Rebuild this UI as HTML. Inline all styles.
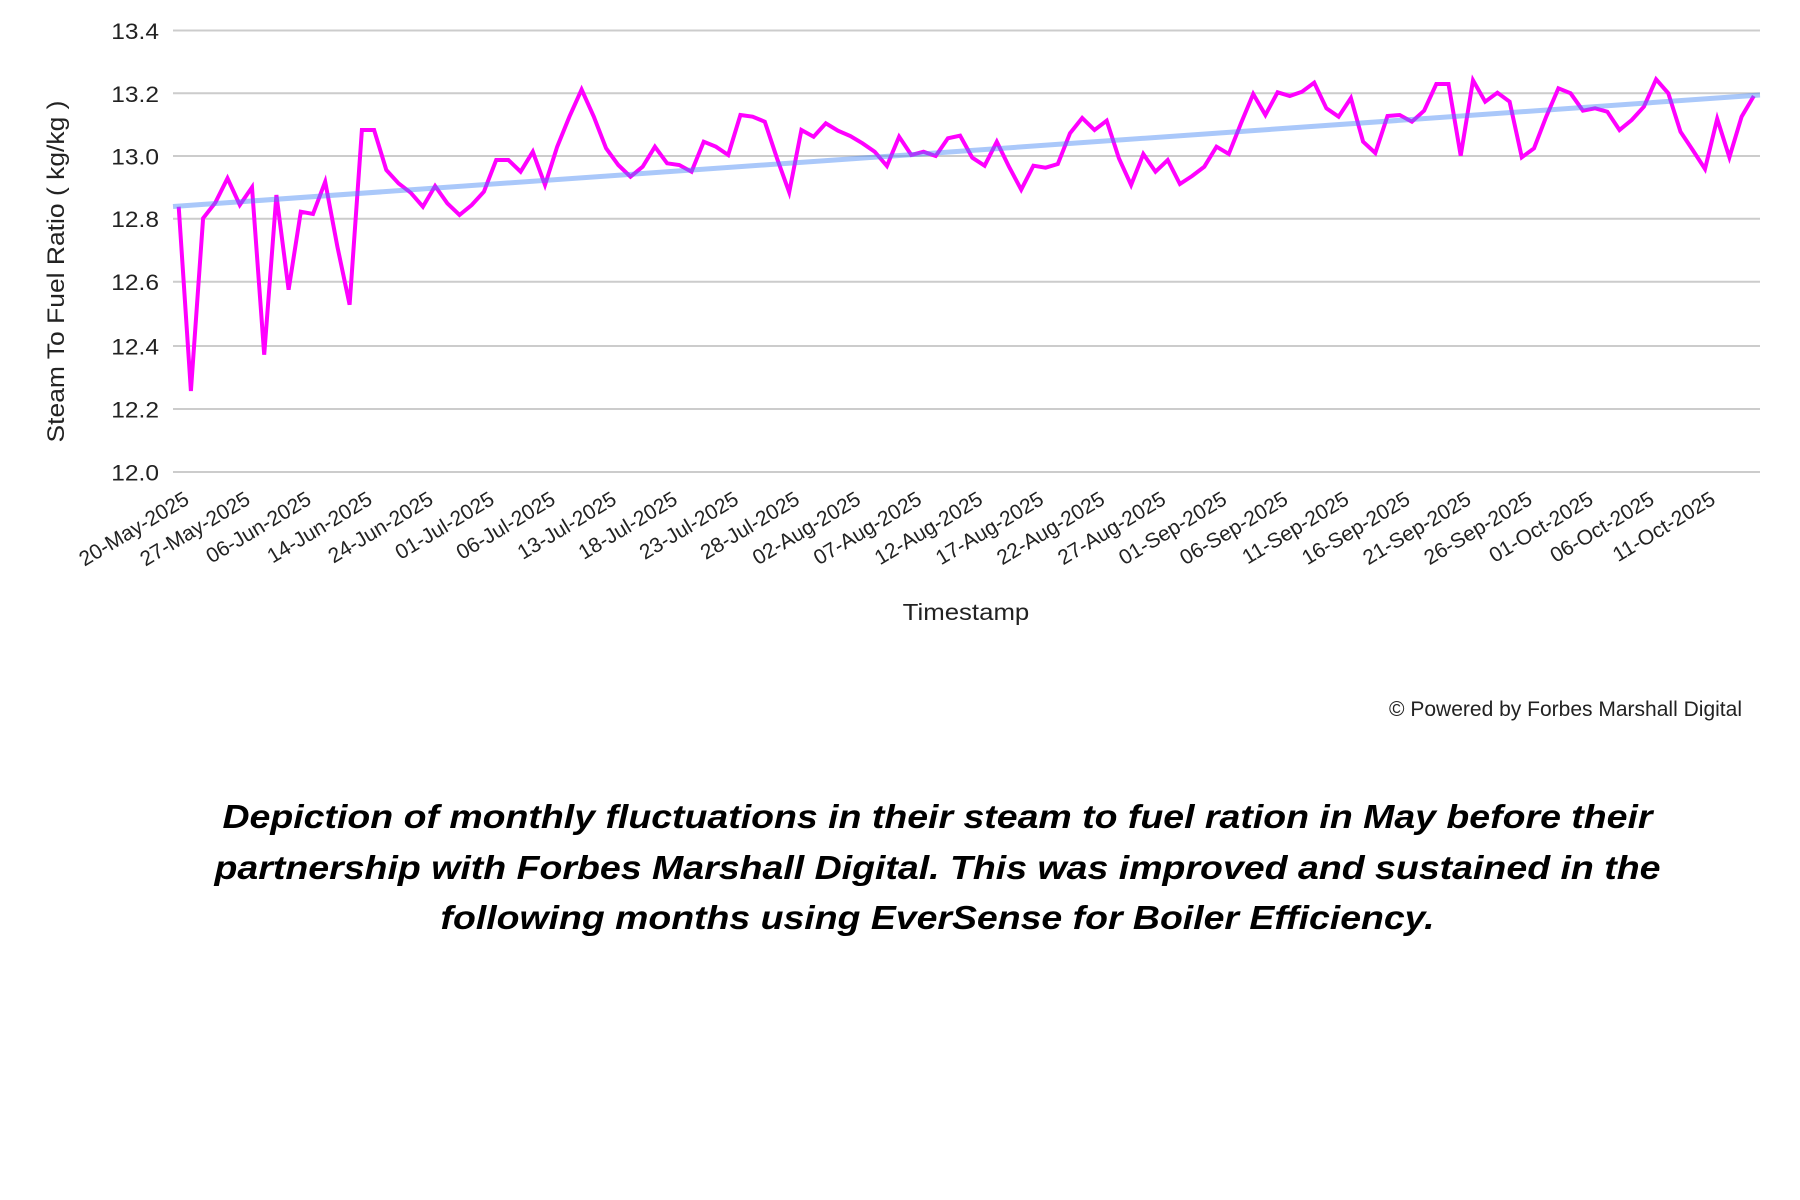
<!DOCTYPE html>
<html>
<head>
<meta charset="utf-8">
<style>
  html, body { margin: 0; padding: 0; background: #ffffff; }
  svg { display: block; }
  .ax { font-family: "Liberation Sans", Arial, sans-serif; fill: #222222; }
  .cap { font-family: "Liberation Sans", Arial, sans-serif; font-weight: bold; font-style: italic; fill: #000000; }
</style>
</head>
<body>
<svg width="1800" height="1200" viewBox="0 0 1800 1200" xmlns="http://www.w3.org/2000/svg">
  <rect x="0" y="0" width="1800" height="1200" fill="#ffffff"/>

  <!-- gridlines -->
  <g stroke="#cccccc" stroke-width="2">
    <line x1="173" y1="30.5" x2="1760" y2="30.5"/>
    <line x1="173" y1="93.3" x2="1760" y2="93.3"/>
    <line x1="173" y1="156" x2="1760" y2="156"/>
    <line x1="173" y1="218.7" x2="1760" y2="218.7"/>
    <line x1="173" y1="281.7" x2="1760" y2="281.7"/>
    <line x1="173" y1="346" x2="1760" y2="346"/>
    <line x1="173" y1="409" x2="1760" y2="409"/>
    <line x1="173" y1="472" x2="1760" y2="472"/>
  </g>

  <!-- y tick labels -->
  <g class="ax" font-size="22.3" text-anchor="end">
    <text x="159" y="39" textLength="47.7" lengthAdjust="spacingAndGlyphs">13.4</text>
    <text x="159" y="101.8" textLength="47.7" lengthAdjust="spacingAndGlyphs">13.2</text>
    <text x="159" y="164.5" textLength="47.7" lengthAdjust="spacingAndGlyphs">13.0</text>
    <text x="159" y="227.2" textLength="47.7" lengthAdjust="spacingAndGlyphs">12.8</text>
    <text x="159" y="290.2" textLength="47.7" lengthAdjust="spacingAndGlyphs">12.6</text>
    <text x="159" y="354.5" textLength="47.7" lengthAdjust="spacingAndGlyphs">12.4</text>
    <text x="159" y="417.5" textLength="47.7" lengthAdjust="spacingAndGlyphs">12.2</text>
    <text x="159" y="480.5" textLength="47.7" lengthAdjust="spacingAndGlyphs">12.0</text>
  </g>

  <!-- y axis title -->
  <text class="ax" font-size="24" text-anchor="middle" transform="translate(64,271.5) rotate(-90)" textLength="342" lengthAdjust="spacingAndGlyphs">Steam To Fuel Ratio ( kg/kg )</text>

  <!-- series -->
  <polyline fill="none" stroke="#ff00ff" stroke-width="4" stroke-linejoin="miter" stroke-miterlimit="4" points="
178.7,206.7 190.9,391 203.1,218.3 215.3,202.7 227.5,178.3 239.8,205 252.0,187.3 264.2,354.7 276.4,195 288.6,289.7
300.8,211.7 313.0,214 325.2,181.7 337.4,246.7 349.6,304.7 361.9,130 374.1,130 386.3,170 398.5,183.3 410.7,192.7
422.9,206.7 435.1,186 447.3,203.3 459.5,215 471.7,205 483.9,191.7 496.2,160 508.4,160 520.6,171.7 532.8,151.7
545.0,185 557.2,146.7 569.4,116.7 581.6,89.5 593.8,116.7 606.1,148.3 618.3,165 630.5,176.7 642.7,166.7 654.9,146.7
667.1,163.3 679.3,165 691.5,171.7 703.7,141.7 715.9,146.7 728.2,155 740.4,115 752.6,116.7 764.8,121.7 777.0,158.3
789.2,192.3 801.4,130 813.6,136.7 825.8,123.3 838.0,130.7 850.3,136 862.5,143.3 874.7,151.7 886.9,166 899.1,136.7
911.3,155 923.5,151.7 935.7,156 947.9,138.3 960.1,135.7 972.3,157.7 984.6,165.7 996.8,141.7 1009.0,166.7 1021.2,189.7
1033.4,165.7 1045.6,167.7 1057.8,164 1070.0,133.3 1082.2,118 1094.5,130 1106.7,120.7 1118.9,158.3 1131.1,185 1143.3,154
1155.5,171.7 1167.7,160 1179.9,184 1192.1,176 1204.3,166.7 1216.5,146.7 1228.8,154 1241.0,123.3 1253.2,94 1265.4,115
1277.6,92.3 1289.8,96 1302.0,91.7 1314.2,82.7 1326.4,108.3 1338.6,116.7 1350.9,98 1363.1,141.7 1375.3,153 1387.5,116
1399.7,115 1411.9,121.7 1424.1,110.7 1436.3,84 1448.5,84 1460.7,155.7 1473.0,80.3 1485.2,101.7 1497.4,92.7 1509.6,101.7
1521.8,157.3 1534.0,148.3 1546.2,116.7 1558.4,88.3 1570.6,93.3 1582.9,110.7 1595.1,108.3 1607.3,111.7 1619.5,130 1631.7,120
1643.9,106.7 1656.1,79.3 1668.3,93.3 1680.5,131.7 1692.7,150 1705.0,169 1717.2,118.8 1729.4,157.3 1741.6,116.7 1753.8,96"/>

  <!-- trendline -->
  <line x1="173" y1="206.5" x2="1760" y2="95" stroke="#4285f4" stroke-opacity="0.45" stroke-width="5"/>

  <!-- x tick labels -->
  <g class="ax" font-size="21" text-anchor="end">
    <text transform="translate(190.5,503) rotate(-31)">20-May-2025</text>
    <text transform="translate(251.6,503) rotate(-31)">27-May-2025</text>
    <text transform="translate(312.6,503) rotate(-31)">06-Jun-2025</text>
    <text transform="translate(373.7,503) rotate(-31)">14-Jun-2025</text>
    <text transform="translate(434.7,503) rotate(-31)">24-Jun-2025</text>
    <text transform="translate(495.7,503) rotate(-31)">01-Jul-2025</text>
    <text transform="translate(556.8,503) rotate(-31)">06-Jul-2025</text>
    <text transform="translate(617.9,503) rotate(-31)">13-Jul-2025</text>
    <text transform="translate(678.9,503) rotate(-31)">18-Jul-2025</text>
    <text transform="translate(740.0,503) rotate(-31)">23-Jul-2025</text>
    <text transform="translate(801.0,503) rotate(-31)">28-Jul-2025</text>
    <text transform="translate(862.1,503) rotate(-31)">02-Aug-2025</text>
    <text transform="translate(923.1,503) rotate(-31)">07-Aug-2025</text>
    <text transform="translate(984.1,503) rotate(-31)">12-Aug-2025</text>
    <text transform="translate(1045.2,503) rotate(-31)">17-Aug-2025</text>
    <text transform="translate(1106.3,503) rotate(-31)">22-Aug-2025</text>
    <text transform="translate(1167.3,503) rotate(-31)">27-Aug-2025</text>
    <text transform="translate(1228.3,503) rotate(-31)">01-Sep-2025</text>
    <text transform="translate(1289.4,503) rotate(-31)">06-Sep-2025</text>
    <text transform="translate(1350.4,503) rotate(-31)">11-Sep-2025</text>
    <text transform="translate(1411.5,503) rotate(-31)">16-Sep-2025</text>
    <text transform="translate(1472.5,503) rotate(-31)">21-Sep-2025</text>
    <text transform="translate(1533.6,503) rotate(-31)">26-Sep-2025</text>
    <text transform="translate(1594.7,503) rotate(-31)">01-Oct-2025</text>
    <text transform="translate(1655.7,503) rotate(-31)">06-Oct-2025</text>
    <text transform="translate(1716.8,503) rotate(-31)">11-Oct-2025</text>
  </g>

  <!-- x axis title -->
  <text class="ax" x="966" y="620" font-size="23.3" text-anchor="middle" textLength="126.6" lengthAdjust="spacingAndGlyphs">Timestamp</text>

  <!-- powered by -->
  <text class="ax" x="1389" y="716" font-size="21" fill="#111111" textLength="353" lengthAdjust="spacingAndGlyphs">© Powered by Forbes Marshall Digital</text>

  <!-- caption -->
  <g class="cap" font-size="33" text-anchor="middle">
    <text x="937.5" y="828" textLength="1430" lengthAdjust="spacingAndGlyphs">Depiction of monthly fluctuations in their steam to fuel ration in May before their</text>
    <text x="937.5" y="879" textLength="1446" lengthAdjust="spacingAndGlyphs">partnership with Forbes Marshall Digital. This was improved and sustained in the</text>
    <text x="937.5" y="929" textLength="994" lengthAdjust="spacingAndGlyphs">following months using EverSense for Boiler Efficiency.</text>
  </g>
</svg>
</body>
</html>
